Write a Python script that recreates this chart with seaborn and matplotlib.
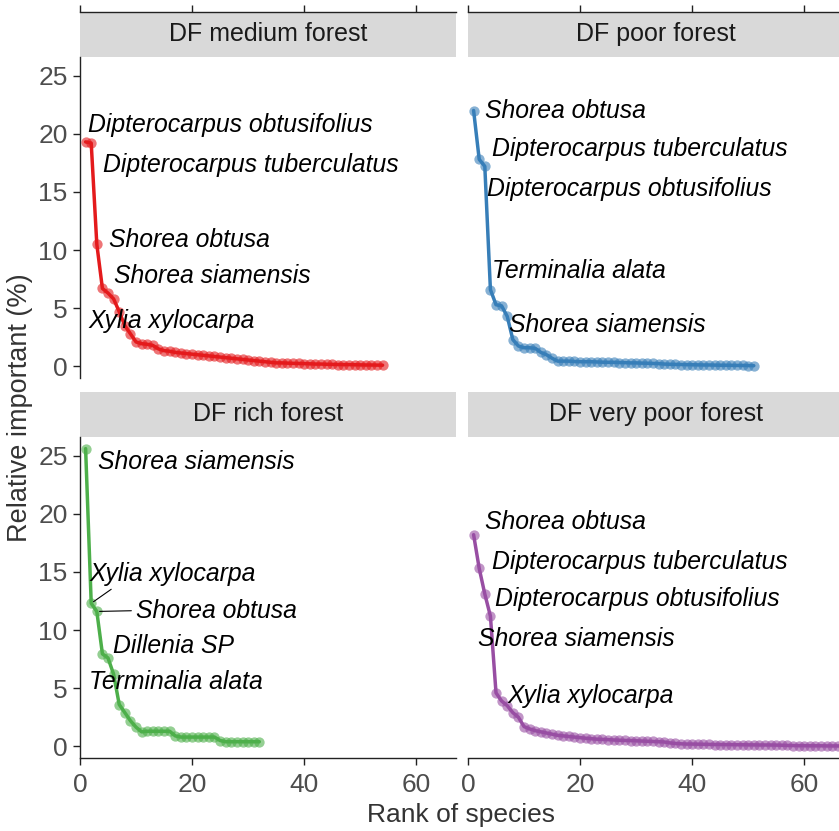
import matplotlib
matplotlib.use("Agg")
import matplotlib.pyplot as plt
import numpy as np
import pandas as pd
import seaborn as sns

# ---------------- data ----------------
forests = ["DF medium forest", "DF poor forest", "DF rich forest", "DF very poor forest"]
colors = ["#E41A1C", "#377EB8", "#4DAF4A", "#984EA3"]

medium_vals = [19.3, 19.2, 10.5, 6.7, 6.3, 5.8, 4.7, 3.5, 2.8, 2.1, 1.95, 1.9, 1.8, 1.5,
               1.35, 1.3, 1.2, 1.15, 1.1, 1.05, 1.0, 0.95, 0.9, 0.85, 0.8, 0.75, 0.7, 0.65,
               0.6, 0.55, 0.5, 0.45, 0.4, 0.35, 0.3, 0.3, 0.28, 0.26, 0.25, 0.24, 0.22, 0.2,
               0.2, 0.18, 0.17, 0.16, 0.15, 0.15, 0.14, 0.13, 0.12, 0.12, 0.11, 0.1]
poor_vals = [22.0, 17.8, 17.2, 6.6, 5.3, 5.2, 4.3, 2.3, 1.75, 1.6, 1.6, 1.55, 1.2, 1.0,
             0.7, 0.45, 0.45, 0.45, 0.42, 0.4, 0.4, 0.4, 0.38, 0.36, 0.35, 0.35, 0.33, 0.32,
             0.3, 0.3, 0.28, 0.27, 0.25, 0.24, 0.2, 0.18, 0.17, 0.16, 0.15, 0.14, 0.13, 0.12,
             0.12, 0.11, 0.1, 0.1, 0.09, 0.08, 0.08, 0.07, 0.06]
rich_vals = [25.6, 12.3, 11.6, 7.95, 7.6, 6.2, 3.6, 2.9, 2.2, 1.65, 1.25, 1.3, 1.3, 1.3,
             1.3, 1.3, 0.9, 0.8, 0.8, 0.8, 0.8, 0.8, 0.8, 0.8, 0.5, 0.4, 0.4, 0.4, 0.4,
             0.4, 0.4, 0.4]
verypoor_vals = [18.2, 15.3, 13.1, 11.2, 4.6, 3.9, 3.5, 2.9, 2.5, 1.7, 1.5, 1.35, 1.25,
                 1.15, 1.05, 0.95, 0.9, 0.85, 0.8, 0.75, 0.7, 0.66, 0.62, 0.6, 0.58, 0.55,
                 0.53, 0.51, 0.5, 0.48, 0.46, 0.44, 0.42, 0.4, 0.38, 0.3, 0.25, 0.22, 0.2,
                 0.2, 0.19, 0.18, 0.17, 0.16, 0.16, 0.15, 0.15, 0.14, 0.14, 0.13, 0.13, 0.12,
                 0.12, 0.12, 0.11, 0.1, 0.08, 0.07, 0.06, 0.06, 0.05, 0.05, 0.05, 0.04,
                 0.04, 0.04, 0.03]
all_vals = [medium_vals, poor_vals, rich_vals, verypoor_vals]

medium_labels = ["Dipterocarpus obtusifolius", "Dipterocarpus tuberculatus", "Shorea obtusa",
                 "Shorea siamensis", "Xylia xylocarpa"]
poor_labels = ["Shorea obtusa", "Dipterocarpus tuberculatus", "Dipterocarpus obtusifolius",
               "Terminalia alata", "Shorea siamensis"]
rich_labels = ["Shorea siamensis", "Xylia xylocarpa", "Shorea obtusa", "Dillenia SP",
               "Terminalia alata"]
verypoor_labels = ["Shorea obtusa", "Dipterocarpus tuberculatus", "Dipterocarpus obtusifolius",
                   "Shorea siamensis", "Xylia xylocarpa"]
all_labels = [medium_labels, poor_labels, rich_labels, verypoor_labels]

# label text positions (data coords)
label_x = [[1.43, 4.1, 5.18, 6.07, 1.43],
           [3.04, 4.2, 3.45, 4.2, 7.38],
           [3.27, 1.66, 10.0, 5.95, 1.66],
           [3.04, 4.2, 4.82, 1.84, 7.09]]
label_y = [[20.78, 17.34, 10.9, 7.74, 3.87],
           [21.93, 18.7, 15.25, 8.17, 3.58],
           [24.42, 14.82, 11.67, 8.66, 5.5],
           [19.26, 15.88, 12.67, 9.24, 4.36]]

x_ticks = [0, 20, 40, 60]
y_ticks = [0, 5, 10, 15, 20, 25]

rows = []
for f, vals in zip(forests, all_vals):
    for i, v in enumerate(vals):
        rows.append({"forest": f, "rank": i + 1, "value": v})
df = pd.DataFrame(rows)

# ---------------- style ----------------
sns.set_theme(style="white")
plt.rcParams["font.family"] = ["Liberation Sans", "DejaVu Sans"]

W, H = 839, 831
fig = plt.figure(figsize=(W / 100, H / 100), dpi=100)


def box(x0, y0, x1, y1):
    return [x0 / W, 1 - y1 / H, (x1 - x0) / W, (y1 - y0) / H]


col_x = [(80, 456), (468, 844)]
row_panel = [(57, 378), (437, 758)]
row_strip = [(12, 57), (392, 437)]

AXC = "#222222"
TICKC = "#4D4D4D"
XLIM = (0, 67.1)
YLIM = (-1.0, 26.6)
LABFS = 17.8

for k, forest in enumerate(forests):
    r, c = divmod(k, 2)
    x0, x1 = col_x[c]
    py0, py1 = row_panel[r]
    sy0, sy1 = row_strip[r]

    # strip
    sax = fig.add_axes(box(x0, sy0, x1, sy1))
    sax.set_facecolor("#D9D9D9")
    sax.set_xlim(*XLIM)
    sax.set_ylim(0, 1)
    for s in sax.spines.values():
        s.set_visible(False)
    sax.set_yticks([])
    if r == 0:
        sax.spines["top"].set_visible(True)
        sax.spines["top"].set_color(AXC)
        sax.spines["top"].set_linewidth(1.0)
        sax.xaxis.set_ticks_position("top")
        sax.set_xticks(x_ticks)
        sax.tick_params(axis="x", direction="out", length=5, width=1.0, color=AXC,
                        labeltop=False, labelbottom=False, top=True, bottom=False)
    else:
        sax.set_xticks([])
    sax.text(0.5, 0.52, forest, transform=sax.transAxes, ha="center", va="center",
             fontsize=18, color="#1A1A1A")

    # panel
    ax = fig.add_axes(box(x0, py0, x1, py1))
    ax.set_facecolor("white")
    sub = df[df["forest"] == forest]
    sns.lineplot(data=sub, x="rank", y="value", color=colors[k], linewidth=2.5, ax=ax,
                 legend=False)
    sns.scatterplot(data=sub, x="rank", y="value", color=colors[k], s=55, alpha=0.6,
                    linewidth=0, ax=ax, legend=False, zorder=3)
    ax.set_xlim(*XLIM)
    ax.set_ylim(*YLIM)
    ax.set_xlabel("")
    ax.set_ylabel("")
    for s in ax.spines.values():
        s.set_visible(False)

    if c == 0:
        ax.spines["left"].set_visible(True)
        ax.spines["left"].set_color(AXC)
        ax.spines["left"].set_linewidth(1.0)
        ax.set_yticks(y_ticks)
        ax.tick_params(axis="y", left=True, length=5, width=1.0, color=AXC,
                       labelsize=19, labelcolor=TICKC, pad=4)
    else:
        ax.set_yticks([])
    if r == 1:
        ax.spines["bottom"].set_visible(True)
        ax.spines["bottom"].set_color(AXC)
        ax.spines["bottom"].set_linewidth(1.0)
        ax.set_xticks(x_ticks)
        ax.tick_params(axis="x", bottom=True, length=5, width=1.0, color=AXC,
                       labelsize=19, labelcolor=TICKC, pad=6)
    else:
        ax.set_xticks([])

    vals = all_vals[k]
    for j, lab in enumerate(all_labels[k]):
        tx, ty = label_x[k][j], label_y[k][j]
        if forest == "DF rich forest" and lab == "Xylia xylocarpa":
            ax.annotate(lab, xy=(2, vals[1]), xytext=(tx, ty), ha="left", va="center",
                        fontsize=LABFS, style="italic", color="black",
                        arrowprops=dict(arrowstyle="-", color="black", lw=0.8,
                                        shrinkA=0, shrinkB=2, relpos=(0.17, 0.05)))
        elif forest == "DF rich forest" and lab == "Shorea obtusa":
            ax.annotate(lab, xy=(3, vals[2]), xytext=(tx, ty), ha="left", va="center",
                        fontsize=LABFS, style="italic", color="black",
                        arrowprops=dict(arrowstyle="-", color="black", lw=0.8,
                                        shrinkA=1, shrinkB=2, relpos=(0.0, 0.5)))
        else:
            ax.text(tx, ty, lab, ha="left", va="center", fontsize=LABFS,
                    style="italic", color="black")

fig.text(461 / W, 1 - 815 / H, "Rank of species", ha="center", va="center",
         fontsize=19, color="#333333")
fig.text(20 / W, 1 - 408 / H, "Relative important (%)", ha="center", va="center",
         rotation=90, fontsize=19.5, color="#333333")

fig.savefig("out.png", dpi=100, facecolor="white")
